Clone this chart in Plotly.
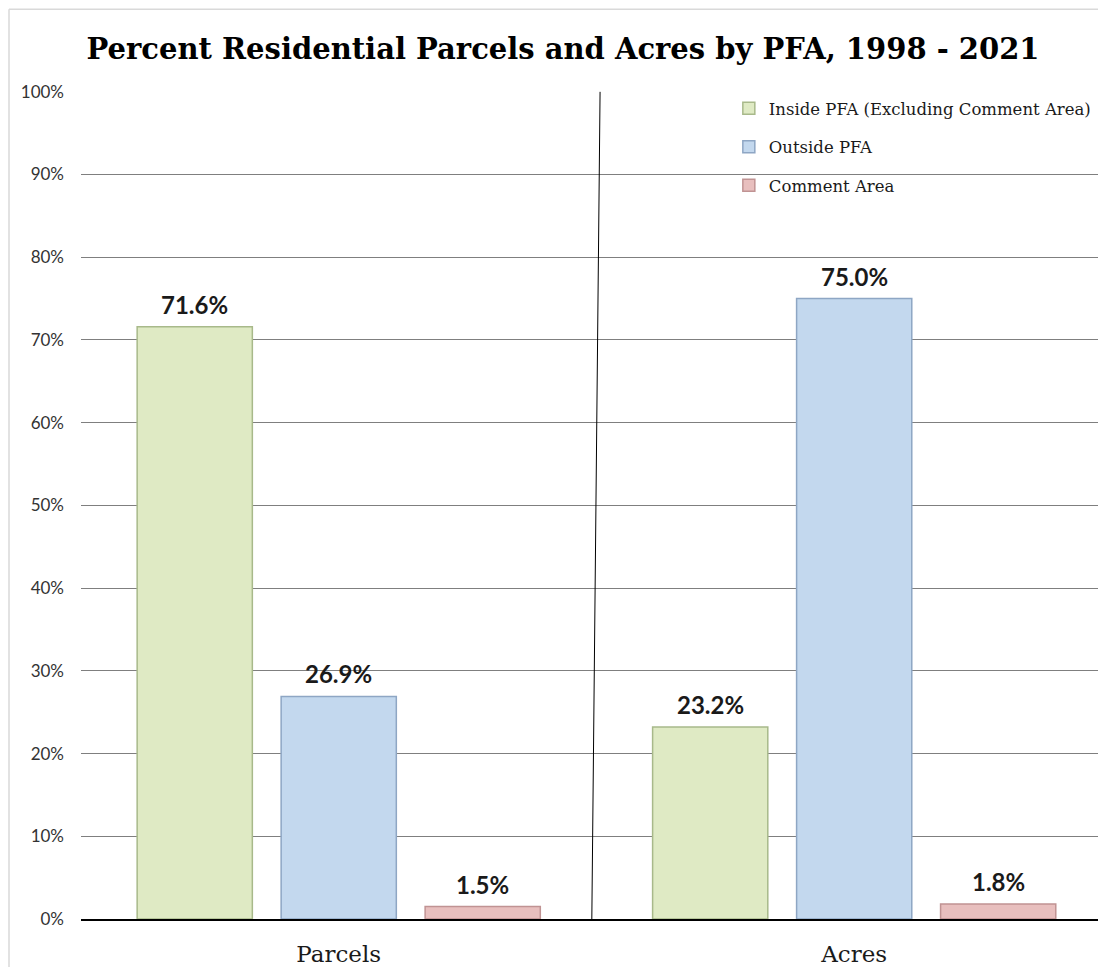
import plotly.graph_objects as go

# категории и значения (в %)
categories = ['Parcels', 'Acres']
series_names = ['Inside PFA (Excluding Comment Area)', 'Outside PFA', 'Comment Area']
inside_pfa = [71.6, 23.2]
outside_pfa = [26.9, 75.0]
comment_area = [1.5, 1.8]
y_ticks = [0, 10, 20, 30, 40, 50, 60, 70, 80, 90, 100]
y_tick_text = [f'{v}%' for v in y_ticks]

fills = ['#dfeac4', '#c3d8ee', '#e8bfbe']
edges = ['#a8b98a', '#8ea6c4', '#c09393']

fig = go.Figure()
for i, (name, vals) in enumerate(zip(series_names, [inside_pfa, outside_pfa, comment_area])):
    fig.add_trace(go.Bar(
        x=categories, y=vals, name=name,
        legendgroup=f'g{i}',
        marker=dict(color=fills[i], line=dict(color=edges[i], width=1.5)),
        offsetgroup=str(i),
    ))

# подписи над столбцами
offsets = [-1, 0, 1]
for i, vals in enumerate([inside_pfa, outside_pfa, comment_area]):
    for j, v in enumerate(vals):
        fig.add_annotation(
            x=j + offsets[i] * 0.2795, y=v, xref='x', yref='y',
            text=f'<b>{v:.1f}%</b>', showarrow=False,
            yanchor='bottom', yshift=6,
            font=dict(family='Lato', size=24, color='#1a1a1a'),
        )

# вертикальный разделитель между категориями
fig.add_shape(type='line', xref='x', yref='y', x0=0.491, x1=0.507, y0=0, y1=100,
              line=dict(color='black', width=1))

# рамка картинки
fig.add_shape(type='line', xref='paper', yref='paper', x0=-0.0708, x1=1.05, y0=1.0988, y1=1.0988,
              line=dict(color='#d9d9d9', width=1.5))
fig.add_shape(type='line', xref='paper', yref='paper', x0=-0.0708, x1=-0.0708, y0=-0.1, y1=1.0988,
              line=dict(color='#d9d9d9', width=1.5))

fig.update_layout(
    width=1090, height=959,
    margin=dict(l=73, r=0, t=83, b=46),
    paper_bgcolor='white', plot_bgcolor='white',
    title=dict(text='<b>Percent Residential Parcels and Acres by PFA, 1998 - 2021</b>',
               x=0.474, xref='paper', xanchor='center', y=0.957, yanchor='middle',
               font=dict(family='DejaVu Serif', size=29, color='black')),
    bargap=0.162, bargroupgap=0.2,
    barmode='group',
    legend=dict(x=0.637, y=1.0, xanchor='left', yanchor='top', bgcolor='rgba(0,0,0,0)',
                font=dict(family='DejaVu Serif', size=16.5, color='#1a1a1a'),
                tracegroupgap=14, itemwidth=30),
    yaxis=dict(range=[0, 100.1], tickvals=y_ticks, ticktext=y_tick_text,
               showgrid=True, gridcolor='#7f7f7f', gridwidth=1,
               zeroline=False, showline=False, ticklabelstandoff=16,
               tickfont=dict(family='Lato', size=17, color='#333')),
    xaxis=dict(showline=True, linecolor='black', linewidth=1.5, ticks='',
               range=[-0.5, 1.473], ticklabelstandoff=14,
               tickfont=dict(family='DejaVu Serif', size=23, color='#1a1a1a')),
)

fig.write_html('out.html')
